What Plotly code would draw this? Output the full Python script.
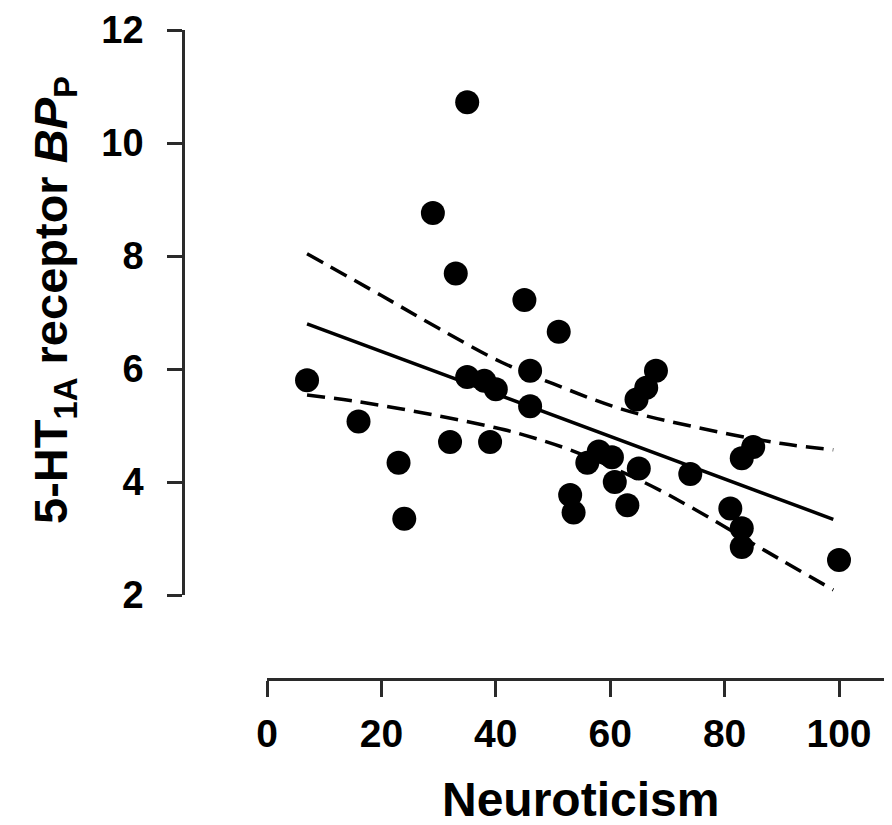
import plotly.graph_objects as go

# Data
neuroticism = [7, 16, 23, 24, 29, 32, 33, 35, 35, 38, 39, 40, 45, 46, 46, 51, 53, 53.6,
               56, 58, 60.3, 60.8, 63, 64.6, 65, 66.3, 68, 74, 81, 83, 83, 83, 85, 100]
bp_p = [5.80, 5.07, 4.34, 3.35, 8.76, 4.71, 7.69, 10.72, 5.86, 5.79, 4.71, 5.64, 7.22, 5.97,
        5.34, 6.66, 3.77, 3.46, 4.34, 4.54, 4.44, 4.00, 3.59, 5.46, 4.24, 5.67, 5.97, 4.14,
        3.53, 4.42, 3.18, 2.85, 4.62, 2.62]

fit_x = [7, 99]
fit_y = [6.80, 3.34]

upper_x = [7, 20, 30, 41, 50, 62, 75, 90, 99]
upper_y = [8.04, 7.30, 6.72, 6.12, 5.74, 5.29, 4.97, 4.68, 4.57]

lower_x = [7, 16, 29, 40, 45, 54, 66, 74, 87, 99]
lower_y = [5.54, 5.42, 5.19, 4.96, 4.83, 4.53, 3.99, 3.56, 2.79, 2.09]

x_ticks = [0, 20, 40, 60, 80, 100]
y_ticks = [2, 4, 6, 8, 10, 12]

# The page body has an 8px margin, so the figure is drawn 8px in from the corner
OFF = 8
W, H = 892 - OFF, 825 - OFF
FONT = "Liberation Sans, Arial, sans-serif"
AXIS_COLOR = "#2a2a2a"


def px_x(p):
    return (p - OFF) / W


def px_y(p):
    return 1 - (p - OFF) / H


fig = go.Figure()
dash = "18px,9px"
fig.add_trace(go.Scatter(x=upper_x, y=upper_y, mode="lines", line_shape="spline",
                         line=dict(color="black", width=3.5, dash=dash), hoverinfo="skip"))
fig.add_trace(go.Scatter(x=lower_x, y=lower_y, mode="lines", line_shape="spline",
                         line=dict(color="black", width=3.5, dash=dash), hoverinfo="skip"))
fig.add_trace(go.Scatter(x=fit_x, y=fit_y, mode="lines",
                         line=dict(color="black", width=3.5), hoverinfo="skip"))
fig.add_trace(go.Scatter(x=neuroticism, y=bp_p, mode="markers",
                         marker=dict(color="black", size=24, line=dict(width=0)),
                         cliponaxis=False))

x_left_px, x_right_px, x_axis_px = 267, 892, 679
px_per_x = 5.72
y_top_px, y_bot_px, y_axis_px = 30, 595, 183

fig.update_layout(
    width=W, height=H,
    margin=dict(l=0, r=0, t=0, b=0),
    paper_bgcolor="white", plot_bgcolor="white",
    showlegend=False,
    xaxis=dict(
        domain=[px_x(x_left_px), 1],
        range=[0, (x_right_px - x_left_px) / px_per_x],
        anchor="free", position=px_y(x_axis_px),
        tickvals=x_ticks, ticks="outside", ticklen=16, tickwidth=2.5, tickcolor=AXIS_COLOR,
        showline=True, linewidth=2.5, linecolor=AXIS_COLOR,
        showgrid=False, zeroline=False, automargin=False,
        tickfont=dict(family=FONT, size=39, color="black", weight="bold"),
        ticklabelstandoff=3,
    ),
    yaxis=dict(
        domain=[px_y(y_bot_px), px_y(y_top_px)],
        range=[2, 12],
        anchor="free", position=px_x(y_axis_px),
        tickvals=y_ticks, ticks="outside", ticklen=15, tickwidth=2.5, tickcolor=AXIS_COLOR,
        showline=True, linewidth=2.5, linecolor=AXIS_COLOR,
        showgrid=False, zeroline=False, automargin=False,
        tickfont=dict(family=FONT, size=38, color="black", weight="bold"),
        ticklabelstandoff=16,
    ),
    annotations=[
        dict(text="5-HT<sub>1A</sub> receptor <i>BP</i><sub>P</sub>",
             xref="paper", yref="paper", x=px_x(54), y=px_y(300),
             xanchor="center", yanchor="middle", textangle=-90, showarrow=False,
             font=dict(family=FONT, size=47, color="black", weight="bold")),
        dict(text="Neuroticism",
             xref="paper", yref="paper", x=px_x(580), y=px_y(799),
             xanchor="center", yanchor="middle", showarrow=False,
             font=dict(family=FONT, size=48, color="black", weight="bold")),
    ],
)

fig.write_html("out.html")
